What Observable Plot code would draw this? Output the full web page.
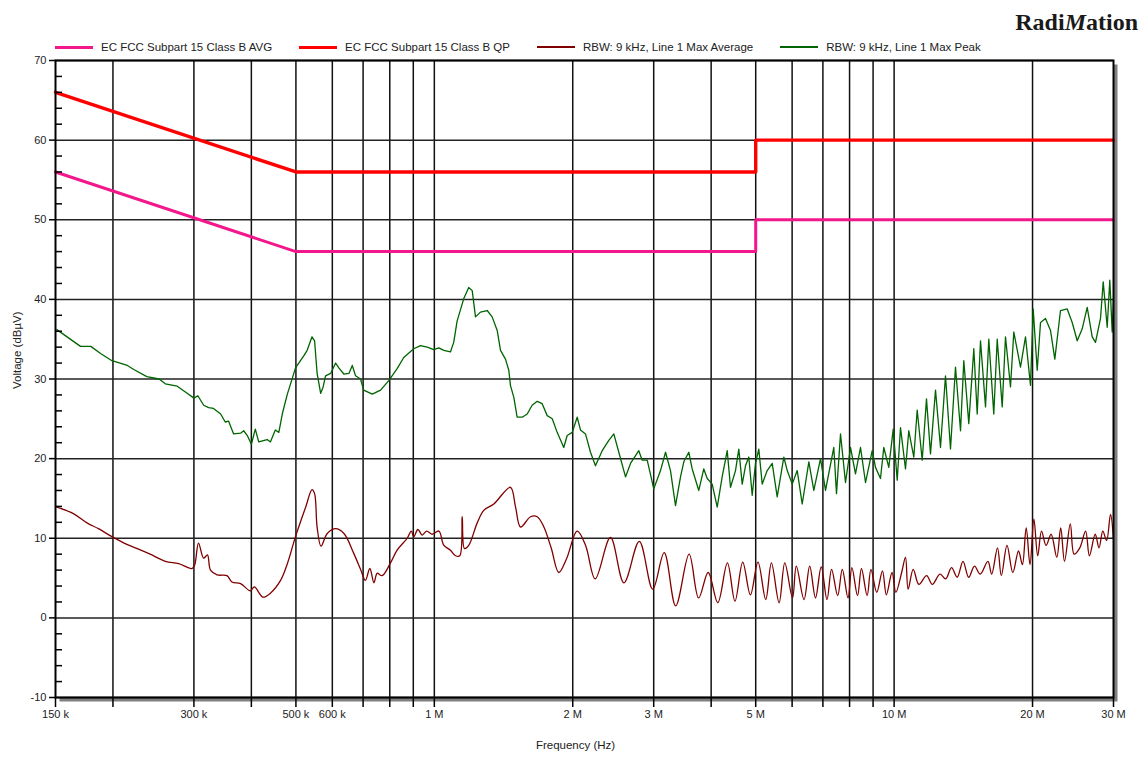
<!DOCTYPE html>
<html><head><meta charset="utf-8">
<script src="https://cdn.jsdelivr.net/npm/d3@7"></script>
<script src="https://cdn.jsdelivr.net/npm/@observablehq/plot@0.6"></script>
<style>
body{margin:0;background:#fff;font-family:"Liberation Sans",Arial,sans-serif;color:#222}
#wrap{width:1140px;}
#head{position:relative;height:54px;}
#logo{position:absolute;right:2px;top:10px;line-height:24px;font-family:"Liberation Serif","Times New Roman",serif;font-size:24px;font-weight:bold;color:#1a1a1a}
#legend{position:absolute;left:55px;top:40px;display:flex;font-size:11.5px;line-height:14px;white-space:nowrap;color:#222}
.item{display:flex;align-items:center;margin-right:27px}
.sw{width:38px;margin-right:8px}
</style></head><body>
<div id="wrap"><div id="head"><div id="logo">Radi<i>M</i>ation</div><div id="legend"></div></div><div id="chart"></div></div>
<script>
// ---- data (frequency in kHz, level in dBµV) ----
const seriesNames = ["EC FCC Subpart 15 Class B AVG", "EC FCC Subpart 15 Class B QP", "RBW: 9 kHz, Line 1 Max Average", "RBW: 9 kHz, Line 1 Max Peak"];

const avgLimitFreqKHz = [150, 500, 5000, 5000, 30000];
const avgLimitLevel   = [56, 46, 46, 50, 50];
const qpLimitFreqKHz  = [150, 500, 5000, 5000, 30000];
const qpLimitLevel    = [66, 56, 56, 60, 60];

const peakFreqKHz = [151,170,179,188,199,215,222,237,252,260,276,290,300,306,315,323,331,343,351,357,366,379,385,392,400,408,415,433,440,451,459,467,479,499,520,529,542,549,556,566,573,580,595,610,620,636,652,663,674,691,702,733,764,796,830,858,902,
933,965,997,1023,1049,1084,1102,1121,1159,1188,1209,1229,1260,1303,1336,1370,1393,1428,1452,1464,1489,1514,1553,1592,1632,1674,1716,1760,1805,1850,1912,1945,1995,2045,2079,2132,2186,2241,2318,2396,2457,2519,2605,2671,2784,2832,2904,3001,3104,3183,3263,3346,3431,3488,3576,3638,3760,3855,3922,4021,4123,4227,4335,4407,4519,4594,4673,4751,4830,4913,4995,5078,5166,5296,5431,5568,5756,5855,6003,6155,6311,6524,6689,6917,
7092,7393,7493,7645,7839,8038,8241,8451,8665,8961,9110,9340,9496,9737,9954,10156,10325,10586,10762,11036,11225,11510,11760,11998,12303,12614,12934,13262,13598,13944,14176,14535,14904,15160,15412,15804,16067,16473,16758,17182,17468,17910,18210,18830,19308,19797,20067,20474,20815,21342,21884,22360,23006,23792,24395,25015,25649,26298,26966,27415,28109,28494,29069,29450,29805,30000];
const peakLevel = [36.2,34.1,34.1,33.2,32.3,31.7,31.2,30.3,30.0,29.4,29.1,28.2,27.6,27.9,26.7,26.4,26.3,25.6,24.6,24.7,23.1,23.2,23.5,22.9,21.8,23.7,22.1,22.4,22.1,23.6,23.3,25.6,28.1,31.4,32.9,33.6,35.3,34.8,30.7,28.2,29.0,30.4,30.7,32.0,31.4,30.6,30.7,31.7,30.4,30.0,28.6,28.1,28.6,29.8,31.3,32.7,33.8,
34.2,34.0,33.7,33.9,33.6,33.4,34.6,37.3,40.1,41.5,41.1,37.8,38.4,38.6,37.8,36.1,33.6,32.5,31.1,29.2,27.7,25.2,25.2,25.6,26.7,27.2,26.9,25.4,25.0,23.3,21.4,22.9,23.3,25.2,23.6,23.1,20.8,19.1,21.0,22.3,23.1,20.8,17.7,19.4,21.0,19.8,19.8,16.2,18.5,20.8,18.5,14.1,17.7,19.6,20.8,18.7,16.0,18.7,17.5,16.8,13.9,17.7,21.0,16.4,18.5,21.2,16.8,19.1,20.2,15.4,19.4,21.2,16.8,18.5,19.4,15.2,20.2,18.5,16.8,18.5,14.3,19.6,16.0,20.0,
16.0,21.4,15.6,23.1,17.0,21.4,18.1,21.4,17.0,21.0,18.9,17.5,21.4,18.9,23.7,17.3,23.9,18.7,23.5,20.2,26.1,19.8,27.5,20.6,28.6,21.4,30.4,21.2,31.5,23.5,32.3,24.4,33.8,25.6,34.8,26.5,35.0,25.6,35.0,26.5,35.3,29.0,35.9,31.5,35.3,29.2,38.8,31.1,37.1,37.6,36.1,32.5,38.6,38.8,37.1,34.8,36.3,39.0,35.3,34.6,37.6,42.2,36.5,42.4,35.9,39.9];

const avgFreqKHz = [151,164,176,186,199,215,228,241,260,278,297,301,307,315,321,326,337,354,363,379,398,406,424,440,463,479,499,525,542,549,556,567,585,610,636,668,691,708,724,739,751,770,803,830,873,891,902,921,941,962,989,1023,1049,1084,1112,1136,1150,1163,1188,1239,1281,1347,1464,1502,1540,1619,1674,
1728,1795,1865,1938,2045,2133,2238,2416,2584,2791,2985,3162,3349,3582,3756,3941,4135,4339,4507,4685,4869,5057,5257,5409,5621,5784,6011,6127,6368,6552,6745,6941,7145,7311,7538,7714,7938,8094,8326,8491,8736,8904,9167,9432,9619,9897,10087,10385,10586,10727,11003,11321,11766,12107,12583,12947,13329,13714,14119,14527,14956,15389,15994,16301,16783,17105,17599,18119,18642,19010,19376,19748,20137,20525,20919,21406,21950,22584,23031,23473,24164,24630,25342,26090,26591,27376,27902,28437,28985,29556,30000];
const avgLevel = [13.9,13.1,11.9,11.2,10.2,9.2,8.6,8.0,7.1,6.8,6.2,6.6,9.4,7.5,7.9,6.0,5.4,5.3,4.5,4.3,3.4,3.9,2.6,3.1,4.7,6.8,10.2,13.9,16.1,15.6,11.4,9.0,10.6,11.2,10.6,8.1,6.1,4.7,6.2,4.4,5.6,5.3,6.9,8.5,10.0,10.9,10.2,11.1,10.4,10.9,10.5,10.9,9.1,8.5,7.8,7.8,12.7,8.7,9.1,11.9,13.5,14.3,16.4,13.9,11.4,12.7,12.7,
11.5,8.8,5.7,7.4,10.9,9.1,4.9,10.1,4.4,9.6,3.6,8.2,1.5,8.0,2.5,5.7,1.9,6.9,2.1,7.0,2.9,7.0,2.3,6.9,1.9,6.9,2.5,6.5,2.3,6.5,2.5,6.4,2.3,6.1,2.8,6.1,2.5,6.3,2.8,6.2,2.8,6.1,3.2,5.9,2.9,5.7,3.2,5.7,7.6,3.6,6.1,4.2,5.3,4.2,5.5,4.9,6.3,5.1,7.1,5.1,6.5,5.5,7.1,5.5,8.8,5.3,9.1,5.7,8.4,6.7,11.3,6.7,12.4,7.8,10.9,9.1,10.5,7.6,11.3,7.1,11.8,8.0,8.8,10.9,7.8,10.5,8.8,10.9,9.7,13.0,9.9];

// ---- axes ----
const xGridKHz = [200,300,400,500,600,700,800,900,1000,2000,3000,4000,5000,6000,7000,8000,9000,10000,20000];
const xTickKHz = [150,200,300,400,500,600,700,800,900,1000,2000,3000,4000,5000,6000,7000,8000,9000,10000,20000,30000];
const xLabelKHz = [150,300,500,600,1000,2000,3000,5000,10000,20000,30000];
const xLabelText = ["150 k","300 k","500 k","600 k","1 M","2 M","3 M","5 M","10 M","20 M","30 M"];
const yMajorTicks = [-10,0,10,20,30,40,50,60,70];
const yMinorTicks = [-8,-6,-4,-2,2,4,6,8,12,14,16,18,22,24,26,28,32,34,36,38,42,44,46,48,52,54,56,58,62,64,66,68];
const xTitle = "Frequency (Hz)";
const yTitle = "Voltage (dBµV)";

const colors = ["#f3178c", "#ff0000", "#800000", "#006400"];
const widths = [3, 3.4, 1.3, 1.3];

const toRows = (fs, vs) => fs.map((f, i) => ({f, v: vs[i]}));
const avgLimit = toRows(avgLimitFreqKHz, avgLimitLevel);
const qpLimit = toRows(qpLimitFreqKHz, qpLimitLevel);
const avgTrace = toRows(avgFreqKHz, avgLevel);
const peakTrace = toRows(peakFreqKHz, peakLevel);
const labelMap = new Map(xLabelKHz.map((k, i) => [k, xLabelText[i]]));

// legend
const legend = document.getElementById("legend");
seriesNames.forEach((name, i) => {
  const it = document.createElement("div"); it.className = "item";
  const sw = document.createElement("span"); sw.className = "sw";
  sw.style.height = widths[i] < 2 ? "1.5px" : "3px"; sw.style.background = colors[i];
  const tx = document.createElement("span"); tx.textContent = name;
  it.appendChild(sw); it.appendChild(tx); legend.appendChild(it);
});

const chart = Plot.plot({
  width: 1140, height: 705,
  marginTop: 6, marginBottom: 62, marginLeft: 55, marginRight: 27,
  style: {fontFamily: '"Liberation Sans", Arial, sans-serif', fontSize: "11px", color: "#222", overflow: "visible", background: "white"},
  x: {type: "log", domain: [150, 30000]},
  y: {domain: [-10, 70]},
  marks: [
    Plot.frame({fill: "#808080", dx: 4, dy: 4}),
    Plot.frame({fill: "white"}),
    Plot.ruleX(xGridKHz, {stroke: "#111", strokeWidth: 1.5}),
    Plot.ruleY(yMajorTicks, {stroke: "#222", strokeWidth: 1.5}),
    Plot.line(avgLimit, {x: "f", y: "v", stroke: colors[0], strokeWidth: widths[0]}),
    Plot.line(qpLimit, {x: "f", y: "v", stroke: colors[1], strokeWidth: widths[1]}),
    Plot.line(avgTrace, {x: "f", y: "v", stroke: colors[2], strokeWidth: widths[2], curve: "catmull-rom"}),
    Plot.line(peakTrace, {x: "f", y: "v", stroke: colors[3], strokeWidth: widths[3]}),
    Plot.frame({stroke: "black", strokeWidth: 2}),
    Plot.axisX(xTickKHz, {tickSize: 10, tickPadding: 3, stroke: "black", strokeWidth: 1.5, tickFormat: d => labelMap.get(d) ?? "", label: null}),
    Plot.axisY(yMajorTicks, {tickSize: 6, tickPadding: 3, stroke: "black", strokeWidth: 1.5, tickFormat: d => String(d), label: null}),
    Plot.axisY(yMinorTicks, {tickSize: -7, stroke: "black", strokeWidth: 1.5, tickFormat: () => "", label: null}),
    Plot.text([xTitle], {text: d => d, frameAnchor: "bottom", dx: -9, dy: 51, fontSize: 11.5, fill: "#222"}),
    Plot.text([yTitle], {text: d => d, frameAnchor: "left", rotate: -90, dx: -38, dy: 10, fontSize: 11.5, fill: "#222"})
  ]
});
document.getElementById("chart").appendChild(chart);
</script>
</body></html>
